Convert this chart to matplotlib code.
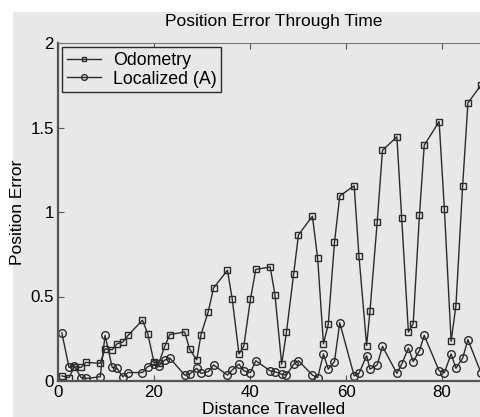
import matplotlib.pyplot as plt
from matplotlib.patches import Rectangle

plt.rcParams['font.family'] = ['Liberation Sans', 'DejaVu Sans']

# distance travelled at each sample (shared by both runs)
distance = [0.8, 2.3, 3.4, 4.8, 5.8, 8.8, 9.8, 11.3, 12.3, 13.5,
            14.6, 17.6, 18.7, 20.0, 21.0, 22.3, 23.3, 26.4, 27.4, 28.9,
            29.8, 31.3, 32.4, 35.3, 36.3, 37.7, 38.7, 40.1, 41.2, 44.2,
            45.2, 46.6, 47.6, 49.1, 50.1, 53.0, 54.1, 55.3, 56.3, 57.6,
            58.7, 61.7, 62.7, 64.3, 65.0, 66.5, 67.6, 70.6, 71.6, 73.0,
            74.0, 75.3, 76.3, 79.4, 80.5, 81.9, 82.9, 84.3, 85.4, 88.1]

odometry = [0.03, 0.02, 0.085, 0.08, 0.11, 0.105, 0.19, 0.185, 0.22, 0.23,
            0.27, 0.36, 0.28, 0.11, 0.105, 0.21, 0.275, 0.29, 0.19, 0.125,
            0.275, 0.41, 0.55, 0.655, 0.485, 0.16, 0.205, 0.485, 0.66, 0.675,
            0.51, 0.10, 0.29, 0.635, 0.865, 0.975, 0.725, 0.22, 0.335, 0.82,
            1.095, 1.155, 0.74, 0.21, 0.415, 0.94, 1.365, 1.445, 0.965, 0.29,
            0.34, 0.98, 1.395, 1.535, 1.015, 0.235, 0.445, 1.155, 1.645, 1.75]

localized = [0.285, 0.08, 0.09, 0.02, 0.015, 0.025, 0.27, 0.08, 0.075, 0.025,
             0.05, 0.05, 0.085, 0.10, 0.09, 0.125, 0.135, 0.035, 0.04, 0.075,
             0.045, 0.055, 0.095, 0.035, 0.065, 0.10, 0.06, 0.05, 0.12, 0.06,
             0.055, 0.04, 0.035, 0.10, 0.12, 0.035, 0.02, 0.16, 0.07, 0.115,
             0.345, 0.03, 0.045, 0.15, 0.07, 0.095, 0.205, 0.045, 0.10, 0.195,
             0.115, 0.18, 0.27, 0.06, 0.05, 0.16, 0.075, 0.135, 0.245, 0.05]

x_ticks = [0, 20, 40, 60, 80]
y_ticks = [0, 0.5, 1, 1.5, 2]
y_ticklabels = ['0', '0.5', '1', '1.5', '2']

bg = '#e8e8e8'
ink = '#2b2b2b'

fig = plt.figure(figsize=(4.81, 4.17), dpi=100, facecolor='white')
fig.patches.append(Rectangle((13 / 481, 0), 1, 1 - 12 / 417,
                             transform=fig.transFigure, facecolor=bg,
                             edgecolor='none', zorder=-1))

ax = fig.add_axes([58 / 481, 36 / 417, 432 / 481, 338 / 417])
ax.set_facecolor(bg)

ax.plot(distance, odometry, color=ink, lw=1.0, marker='s', ms=4.5,
        mfc='none', mec=ink, mew=1.0, label='Odometry')
ax.plot(distance, localized, color=ink, lw=1.0, marker='o', ms=5.5,
        mfc='none', mec=ink, mew=1.0, label='Localized (A)')

ax.set_xlim(0, 90)
ax.set_ylim(0, 2)
ax.set_xticks(x_ticks)
ax.set_yticks(y_ticks)
ax.set_yticklabels(y_ticklabels)
ax.tick_params(direction='in', length=4, width=0.8, color='#555555',
               labelsize=12.2, top=True, right=True, pad=3)

for side in ['left', 'bottom']:
    ax.spines[side].set_linewidth(1.6)
    ax.spines[side].set_color('#555555')
ax.spines['top'].set_linewidth(0.8)
ax.spines['top'].set_color('#777777')

ax.set_title('Position Error Through Time', fontsize=12.5, pad=12)
ax.set_xlabel('Distance Travelled', fontsize=12.5, labelpad=1)
ax.set_ylabel('Position Error', fontsize=12.5, labelpad=4)

leg = ax.legend(loc='upper left', fontsize=12.8, fancybox=False,
                facecolor=bg, edgecolor=ink, framealpha=1,
                handlelength=1.9, handletextpad=0.7, borderpad=0.25,
                labelspacing=0.1, borderaxespad=0.25, markerscale=0.75)
leg.get_frame().set_linewidth(1.0)

fig.savefig('out.png', dpi=100, facecolor=fig.get_facecolor())
